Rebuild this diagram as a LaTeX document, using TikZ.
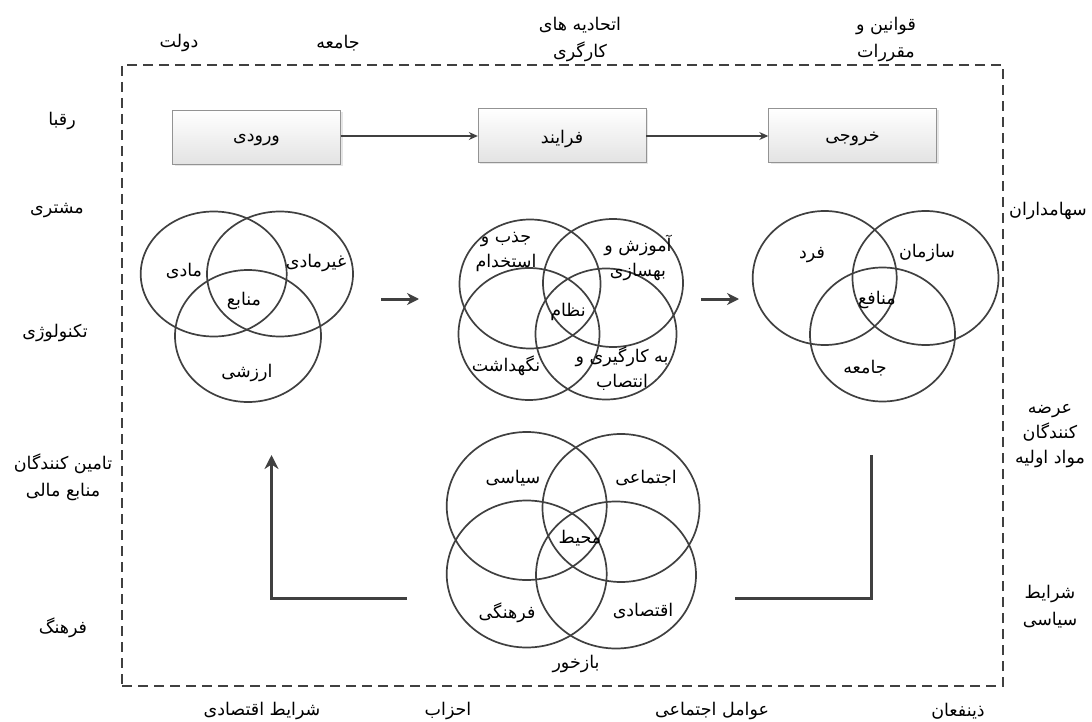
\documentclass[tikz,border=0pt]{standalone}
\usepackage{fontspec}
\usetikzlibrary{shapes.geometric,arrows.meta,shadows}
\newfontfamily\arabicfont[Script=Arabic]{DejaVu Sans}
\TeXXeTstate=1
\newcommand{\ptx}[1]{{\arabicfont\beginR #1\endR}}
\definecolor{lncol}{HTML}{404040}
\begin{document}
\begin{tikzpicture}[x=1pt,y=-1pt,
  lbl/.style={inner sep=1pt,align=center,font=\fontsize{17.5}{27}\selectfont,text=black,yshift=-3pt},
  lblv/.style={lbl,font=\fontsize{17.5}{25}\selectfont},
  boxst/.style={draw=gray!85,top color=white,bottom color=gray!22,minimum width=168pt,minimum height=54pt,inner sep=0pt,
     drop shadow={opacity=0.2,shadow xshift=2pt,shadow yshift=-2pt}},
  vennst/.style={draw=lncol,line width=1.7pt,ellipse,inner sep=0pt},
  thinarr/.style={draw=lncol,line width=1.2pt,-{Stealth[length=9pt,width=8pt]}},
  thickarr/.style={draw=lncol,line width=3pt,-{Stealth[length=12pt,width=12pt]}},
  bigline/.style={draw=lncol,line width=3.5pt}]
\useasboundingbox (0,0) rectangle (1092,722);
% dashed frame
\node[draw=lncol,line width=1.4pt,dash pattern=on 10pt off 6pt,minimum width=881pt,minimum height=621pt,inner sep=0pt] (frame) at (562.5,375.5) {};
% boxes
\node[boxst] (inp) at (256.5,137) {};
\node[boxst] (proc) at (562,135.5) {};
\node[boxst] (outp) at (852.5,135.5) {};
\node[lbl] (inpt) at (inp.center) {\ptx{ورودی}};
\node[lbl] (proct) at (proc.center) {\ptx{فرایند}};
\node[lbl] (outpt) at (outp.center) {\ptx{خروجی}};
\draw[thinarr] (inp.east |- 0,136) -- (proc.west |- 0,136);
\draw[thinarr] (proc.east |- 0,136) -- (outp.west |- 0,136);
% Venn 1
\node[vennst,minimum width=146pt,minimum height=125pt] (a1) at (213.7,274) {};
\node[vennst,minimum width=146pt,minimum height=125pt] (a2) at (280,274) {};
\node[vennst,minimum width=146pt,minimum height=132pt] (a3) at (248,336) {};
\node[lbl] (a1t) at (184,268) {\ptx{مادی}};
\node[lbl] (a2t) at (316,260) {\ptx{غیرمادی}};
\node[lbl] (a0t) at (244,298) {\ptx{منابع}};
\node[lbl] (a3t) at (247,370) {\ptx{ارزشی}};
% Venn 2
\node[vennst,minimum width=141pt,minimum height=129pt] (b1) at (530,284) {};
\node[vennst,minimum width=140pt,minimum height=128pt] (b2) at (613,283) {};
\node[vennst,minimum width=141pt,minimum height=132pt] (b3) at (529,334) {};
\node[vennst,minimum width=141pt,minimum height=131pt] (b4) at (606,334) {};
\node[lblv] (b1t) at (506,249) {\ptx{جذب و}\\\ptx{استخدام}};
\node[lblv] (b2t) at (638,255) {\ptx{آموزش و}\\\ptx{بهسازی}};
\node[lbl] (b0t) at (568,309) {\ptx{نظام}};
\node[lbl] (b3t) at (506,363) {\ptx{نگهداشت}};
\node[lblv] (b4t) at (622,366) {\ptx{به کارگیری و}\\\ptx{انتصاب}};
% Venn 3
\node[vennst,minimum width=144pt,minimum height=134pt] (c1) at (824.7,278) {};
\node[vennst,minimum width=146pt,minimum height=134pt] (c2) at (925.5,278) {};
\node[vennst,minimum width=145pt,minimum height=134pt] (c3) at (882.5,334.5) {};
\node[lbl] (c1t) at (812,252) {\ptx{فرد}};
\node[lbl] (c2t) at (927,250) {\ptx{سازمان}};
\node[lbl] (c0t) at (877,297) {\ptx{منافع}};
\node[lbl] (c3t) at (865,365) {\ptx{جامعه}};
% Venn 4
\node[vennst,minimum width=160pt,minimum height=148pt] (d1) at (526.7,506) {};
\node[vennst,minimum width=157pt,minimum height=148pt] (d2) at (621,508) {};
\node[vennst,minimum width=160pt,minimum height=147pt] (d3) at (526.7,574) {};
\node[vennst,minimum width=160pt,minimum height=147pt] (d4) at (616,575) {};
\node[lbl] (d1t) at (513,475) {\ptx{سیاسی}};
\node[lbl] (d2t) at (646,475) {\ptx{اجتماعی}};
\node[lbl] (d0t) at (580,535) {\ptx{محیط}};
\node[lbl] (d3t) at (507,610) {\ptx{فرهنگی}};
\node[lbl] (d4t) at (643,608) {\ptx{اقتصادی}};
\node[lbl] (fbt) at (576,661) {\ptx{بازخور}};
% small thick arrows
\coordinate (s1a) at (381,299); \coordinate (s1b) at (419,299);
\coordinate (s2a) at (701,299); \coordinate (s2b) at (739,299);
\draw[thickarr] (s1a) -- (s1b);
\draw[thickarr] (s2a) -- (s2b);
% feedback L lines
\coordinate (l1) at (407,598.5); \coordinate (l2) at (271.5,598.5); \coordinate (l3) at (271.5,455);
\draw[bigline,-{Stealth[length=14pt,width=14pt]},line join=miter] (l1) -- (l2) -- (l3);
\coordinate (r1) at (735,598.5); \coordinate (r2) at (871.5,598.5); \coordinate (r3) at (871.5,455);
\draw[bigline,line join=miter] (r1) -- (r2) -- (r3);
% outer labels top
\node[lbl] (t1) at (179,40) {\ptx{دولت}};
\node[lbl] (t2) at (338,40) {\ptx{جامعه}};
\node[lbl] (t3) at (580,36) {\ptx{اتحادیه های}\\\ptx{کارگری}};
\node[lbl] (t4) at (886,36) {\ptx{قوانین و}\\\ptx{مقررات}};
% left
\node[lbl] (l_1) at (62,118) {\ptx{رقبا}};
\node[lbl] (l_2) at (57,208) {\ptx{مشتری}};
\node[lbl] (l_3) at (55,330) {\ptx{تکنولوژی}};
\node[lbl] (l_4) at (63,474) {\ptx{تامین کنندگان}\\\ptx{منابع مالی}};
\node[lbl] (l_5) at (63,625) {\ptx{فرهنگ}};
% right
\node[lblv] (r_1) at (1048,208) {\ptx{سهامداران}};
\node[lblv] (r_2) at (1050,433) {\ptx{عرضه}\\\ptx{کنندگان}\\\ptx{مواد اولیه}};
\node[lbl] (r_3) at (1050,604) {\ptx{شرایط}\\\ptx{سیاسی}};
% bottom
\node[lbl] (b_1) at (262,708) {\ptx{شرایط اقتصادی}};
\node[lbl] (b_2) at (448,708) {\ptx{احزاب}};
\node[lbl] (b_3) at (712,708) {\ptx{عوامل اجتماعی}};
\node[lbl] (b_4) at (958,708) {\ptx{ذینفعان}};
\end{tikzpicture}
\end{document}
